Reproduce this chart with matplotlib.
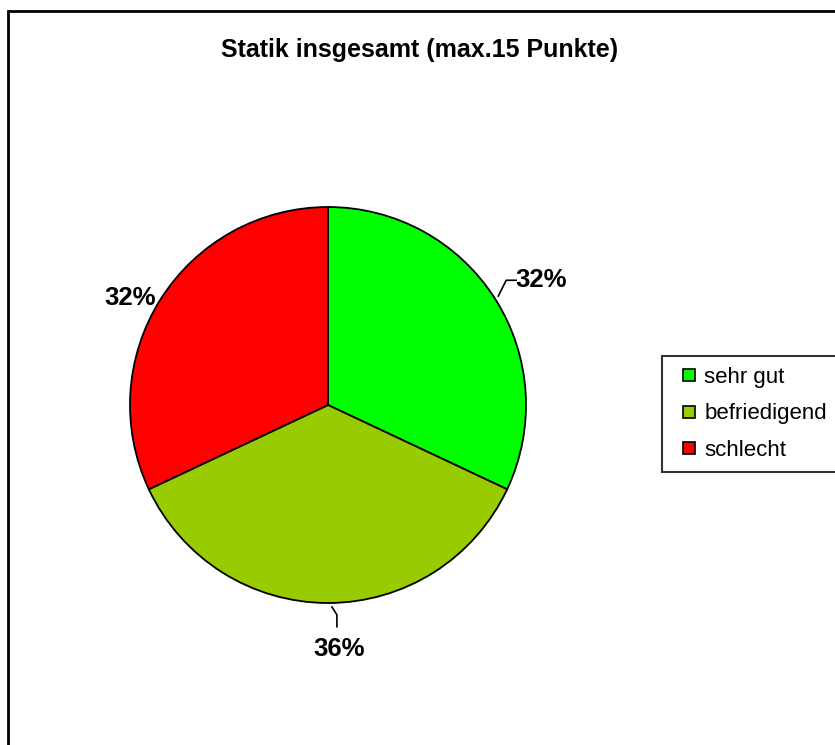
import numpy as np
import matplotlib.pyplot as plt
from matplotlib.patches import Rectangle
from matplotlib.legend_handler import HandlerPatch

plt.rcParams['font.family'] = ['Liberation Sans', 'DejaVu Sans']

labels = ['sehr gut', 'befriedigend', 'schlecht']
counts = [8, 9, 8]
colors = ['#00FF00', '#99CC00', '#FF0000']
title = 'Statik insgesamt (max.15 Punkte)'

W, H = 835, 745
fig = plt.figure(figsize=(W / 100, H / 100), dpi=100)

# outer frame (right and bottom edges run off the picture)
fig.patches.append(Rectangle((8 / W, -0.05), 1.2, 1 - 11 / H + 0.05,
                             transform=fig.transFigure, fill=False,
                             edgecolor='black', linewidth=2))

R = 198
cx, cy = 328, H - 405
ax = fig.add_axes([(cx - 1.5 * R) / W, (cy - 1.5 * R) / H, 3 * R / W, 3 * R / H])
wedges, _ = ax.pie(counts, colors=colors, startangle=90, counterclock=False,
                   wedgeprops=dict(edgecolor='black', linewidth=1.3))
ax.set_xlim(-1.5, 1.5)
ax.set_ylim(-1.5, 1.5)
ax.set_aspect('equal')
ax.axis('off')

total = sum(counts)
pcts = ['{:.0f}%'.format(c / total * 100) for c in counts]
# label positions and leader lines (in pie radius units)
text_pos = [(1.075, 0.63), (0.055, -1.23), (-1.0, 0.54)]
leaders = [[(0.86, 0.55), (0.90, 0.63), (0.95, 0.63)],
           [(0.02, -1.02), (0.045, -1.06), (0.045, -1.12)],
           None]
for p, pos, ld in zip(pcts, text_pos, leaders):
    ax.text(pos[0], pos[1], p, ha='center', va='center', fontsize=18.5,
            fontweight='bold')
    if ld:
        xs, ys = zip(*ld)
        ax.plot(xs, ys, color='black', lw=1.2, clip_on=False)

fig.text(420 / W, 1 - 50 / H, title, ha='center', va='center',
         fontsize=18, fontweight='bold')


def small_square(legend, orig_handle, xdescent, ydescent, width, height, fontsize):
    s = 8.8
    return Rectangle((-xdescent + width - s, -ydescent + (height - s) / 2), s, s)


leg = fig.legend(wedges, labels, loc='center left',
                 bbox_to_anchor=(662 / W, 1 - 414 / H), fontsize=16,
                 frameon=True, fancybox=False, edgecolor='black',
                 handlelength=1.0, handleheight=0.55, handletextpad=0.4,
                 labelspacing=0.7, borderpad=0.5, borderaxespad=0,
                 handler_map={w: HandlerPatch(patch_func=small_square) for w in wedges})
leg.get_frame().set_linewidth(1.5)
for h in leg.legend_handles:
    h.set_linewidth(1.2)

fig.savefig('out.png', dpi=100)
